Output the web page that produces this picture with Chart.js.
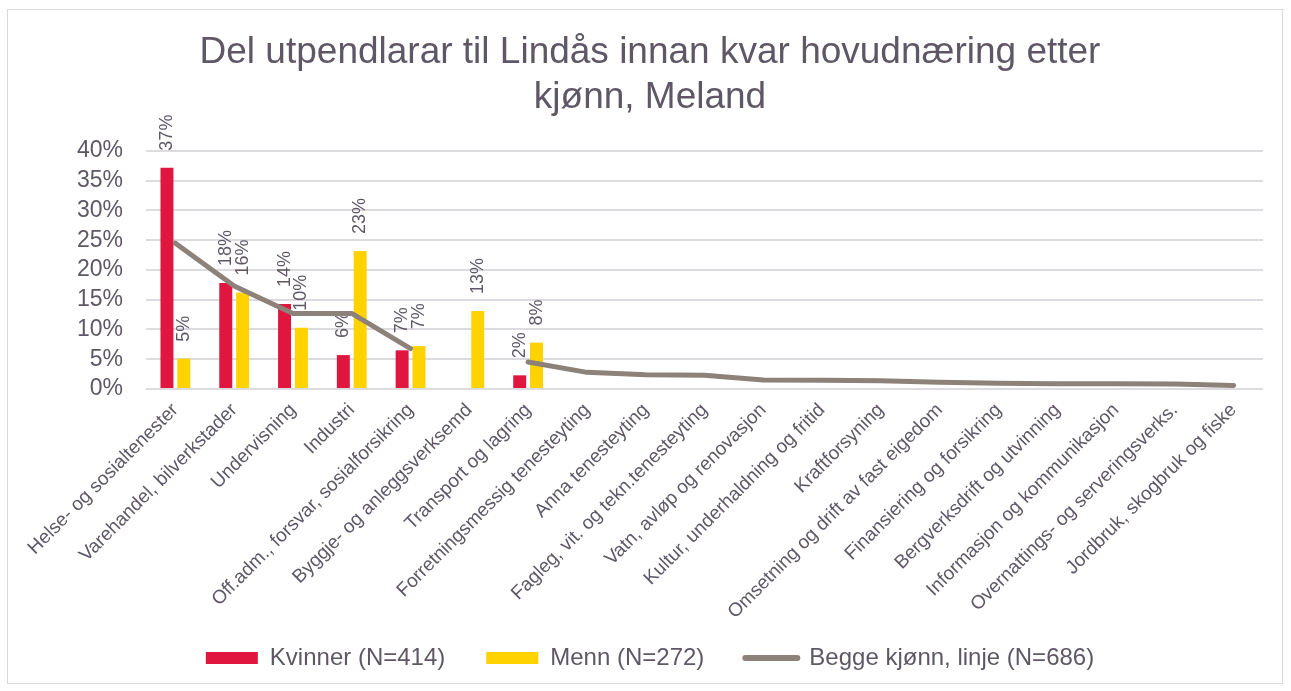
<!DOCTYPE html>
<html>
<head>
<meta charset="utf-8">
<script src="https://cdn.jsdelivr.net/npm/chart.js@4/dist/chart.umd.min.js"></script>
<style>
  html, body { margin: 0; padding: 0; background: #fff; }
  #wrap { position: relative; width: 1291px; height: 691px; }
  #frame { position: absolute; left: 7px; top: 9px; width: 1276px; height: 675px; box-sizing: border-box; border: 1px solid #d9d9d9; }
  #myChart { position: absolute; left: 0; top: 0; }
</style>
</head>
<body>
<div id="wrap">
  <div id="frame"></div>
  <canvas id="myChart"></canvas>
</div>
<script>
// hovudnæringar (x-aksen)
const categories = [
  "Helse- og sosialtenester",
  "Varehandel, bilverkstader",
  "Undervisning",
  "Industri",
  "Off.adm., forsvar, sosialforsikring",
  "Byggje- og anleggsverksemd",
  "Transport og lagring",
  "Forretningsmessig tenesteyting",
  "Anna tenesteyting",
  "Fagleg, vit. og tekn.tenesteyting",
  "Vatn, avløp og renovasjon",
  "Kultur, underhaldning og fritid",
  "Kraftforsyning",
  "Omsetning og drift av fast eigedom",
  "Finansiering og forsikring",
  "Bergverksdrift og utvinning",
  "Informasjon og kommunikasjon",
  "Overnattings- og serveringsverks.",
  "Jordbruk, skogbruk og fiske"
];

// prosent, lest av figuren
const kvinner = [37.2, 17.8, 14.3, 5.7, 6.5, null, 2.3, null, null, null, null, null, null, null, null, null, null, null, null];
const menn = [5.1, 16.2, 10.3, 23.2, 7.2, 13.1, 7.8, null, null, null, null, null, null, null, null, null, null, null, null];
const begge = [24.5, 17.3, 12.7, 12.7, 6.8, null, 4.55, 2.8, 2.4, 2.3, 1.5, 1.45, 1.4, 1.15, 0.95, 0.9, 0.9, 0.85, 0.6];

const yTicks = [0, 5, 10, 15, 20, 25, 30, 35, 40];

const titleLines = ["Del utpendlarar til Lindås innan kvar hovudnæring etter", "kjønn, Meland"];

const RED = "#e0163e";
const YELLOW = "#ffd200";
const LINE = "#8c8279";
const TEXT = "#5f5766";
const GRID = "#dedbe0";

Chart.defaults.font.family = '"Liberation Sans", Arial, sans-serif';
Chart.defaults.color = TEXT;

// prosentetiketter over søylene, rotert 90 grader
const barLabels = {
  id: "barLabels",
  afterDatasetDraw(chart, args) {
    const ds = chart.data.datasets[args.index];
    if (ds.type !== "bar") return;
    const ctx = chart.ctx;
    ctx.save();
    ctx.font = '18px "Liberation Sans", Arial, sans-serif';
    ctx.fillStyle = TEXT;
    ctx.textAlign = "left";
    ctx.textBaseline = "middle";
    args.meta.data.forEach((bar, j) => {
      const v = ds.data[j];
      if (v == null) return;
      ctx.save();
      ctx.translate(bar.x, bar.y - 17);
      ctx.rotate(-Math.PI / 2);
      ctx.fillText(Math.round(v) + "%", 0, 0);
      ctx.restore();
    });
    ctx.restore();
  }
};

const ctx = document.getElementById("myChart");

new Chart(ctx, {
  data: {
    labels: categories,
    datasets: [
      {
        type: "bar",
        label: "Kvinner (N=414)",
        data: kvinner,
        backgroundColor: RED,
        categoryPercentage: 0.573,
        barPercentage: 0.77
      },
      {
        type: "bar",
        label: "Menn (N=272)",
        data: menn,
        backgroundColor: YELLOW,
        categoryPercentage: 0.573,
        barPercentage: 0.77
      },
      {
        type: "line",
        label: "Begge kjønn, linje (N=686)",
        data: begge,
        borderColor: LINE,
        backgroundColor: LINE,
        borderWidth: 5,
        pointRadius: 0,
        pointHoverRadius: 0,
        tension: 0,
        borderCapStyle: "round",
        borderJoinStyle: "round",
        spanGaps: false,
        order: -1 // teiknast over søylene
      }
    ]
  },
  options: {
    responsive: true,
    maintainAspectRatio: false,
    animation: false,
    layout: { padding: { top: 10, left: 37, right: 28, bottom: 11 } },
    plugins: {
      title: {
        display: true,
        text: titleLines,
        color: TEXT,
        font: { size: 37, weight: "normal", lineHeight: 1.216 },
        padding: { top: 20.5, bottom: 30.5 }
      },
      legend: {
        position: "bottom",
        labels: {
          usePointStyle: true,
          pointStyleWidth: 52,
          boxHeight: 12,
          padding: 41,
          color: TEXT,
          font: { size: 24 },
          generateLabels: (chart) =>
            chart.data.datasets.map((ds, i) => ({
              text: ds.label,
              fillStyle: ds.type === "line" ? "rgba(0,0,0,0)" : ds.backgroundColor,
              strokeStyle: ds.type === "line" ? ds.borderColor : ds.backgroundColor,
              lineWidth: ds.type === "line" ? 6 : 0,
              lineCap: "round",
              pointStyle: ds.type === "line" ? "line" : "rect",
              fontColor: TEXT,
              hidden: !chart.isDatasetVisible(i),
              datasetIndex: i
            }))
        }
      },
      tooltip: { enabled: false }
    },
    scales: {
      x: {
        grid: { display: false, drawTicks: false },
        border: { display: false },
        ticks: {
          autoSkip: false,
          minRotation: 45,
          maxRotation: 45,
          padding: 10,
          color: TEXT,
          font: { size: 19 }
        },
        afterFit: (s) => {
          s.height = 216;
          s._computeLabelArea = () => undefined; // lange etikettar skal ikkje kuttast
        }
      },
      y: {
        min: 0,
        max: 40,
        afterBuildTicks: (s) => { s.ticks = yTicks.map((v) => ({ value: v })); },
        grid: { color: GRID, lineWidth: 2, drawTicks: false },
        border: { display: false },
        ticks: {
          autoSkip: false,
          padding: 23,
          color: TEXT,
          font: { size: 23 },
          callback: (v) => v + "%"
        },
        afterFit: (s) => { s.width = 109; }
      }
    }
  },
  plugins: [barLabels]
});
</script>
</body>
</html>
